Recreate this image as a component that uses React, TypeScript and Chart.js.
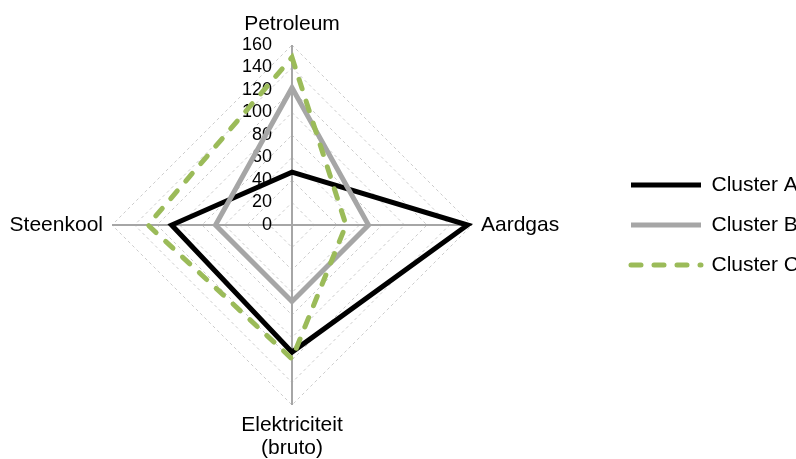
import React, { useEffect, useRef } from 'react';
import { Chart, registerables } from 'chart.js';

Chart.register(...registerables);

const CATEGORIES: (string | string[])[] = ['Petroleum', 'Aardgas', ['Elektriciteit', '(bruto)'], 'Steenkool'];
const SERIES_NAMES = ['Cluster A', 'Cluster B', 'Cluster C'];
const CLUSTER_A = [47, 156, 113, 107];
const CLUSTER_B = [122, 68, 68, 68];
const CLUSTER_C = [149, 48, 119, 128];
const SCALE_MIN = 0;
const SCALE_MAX = 160;
const SCALE_STEP = 20;

const FONT = '"Liberation Sans", Arial, sans-serif';
const SHIFT = 28;

const labelsPlugin = {
  id: 'customRadarLabels',
  beforeDatasetsDraw(chart: any) {
    const s = chart.scales.r;
    const ctx = chart.ctx;
    ctx.save();
    ctx.font = `18px ${FONT}`;
    ctx.fillStyle = '#000';
    ctx.textAlign = 'right';
    ctx.textBaseline = 'middle';
    s.ticks.forEach((t: any) => {
      const d = s.getDistanceFromCenterForValue(t.value);
      ctx.fillText(String(t.label), s.xCenter - 20, s.yCenter - d);
    });
    ctx.restore();
  },
  afterDraw(chart: any) {
    const s = chart.scales.r;
    const ctx = chart.ctx;
    const labels = chart.data.labels as (string | string[])[];
    const lineH = 23;
    ctx.save();
    ctx.font = `21px ${FONT}`;
    ctx.fillStyle = '#000';
    ctx.textBaseline = 'middle';
    labels.forEach((lab, i) => {
      const lines = Array.isArray(lab) ? lab : [lab];
      const pos = s.getPointPosition(i, s.drawingArea + 9);
      const ang = s.getIndexAngle(i);
      const sx = Math.sin(ang);
      const cy = -Math.cos(ang);
      let align: CanvasTextAlign = 'center';
      if (sx > 0.3) align = 'left';
      else if (sx < -0.3) align = 'right';
      ctx.textAlign = align;
      const total = lines.length * lineH;
      let y0: number;
      if (cy < -0.3) y0 = pos.y - total;
      else if (cy > 0.3) y0 = pos.y;
      else y0 = pos.y - total / 2;
      lines.forEach((ln, k) => {
        ctx.fillText(ln, pos.x, y0 + k * lineH + lineH / 2);
      });
    });
    ctx.restore();
  },
};

export default function App() {
  const ref = useRef<HTMLCanvasElement | null>(null);

  useEffect(() => {
    document.body.style.margin = '0';
    document.body.style.overflow = 'hidden';
    if (!ref.current) return;
    const chart = new Chart(ref.current, {
      type: 'radar',
      data: {
        labels: CATEGORIES as any,
        datasets: [
          {
            label: SERIES_NAMES[0],
            data: CLUSTER_A,
            borderColor: '#000000',
            backgroundColor: '#000000',
            borderWidth: 5,
            fill: false,
            pointRadius: 0,
            pointHoverRadius: 0,
            borderJoinStyle: 'miter',
            borderCapStyle: 'butt',
            order: 3,
            clip: false,
          } as any,
          {
            label: SERIES_NAMES[1],
            data: CLUSTER_B,
            borderColor: '#a6a6a6',
            backgroundColor: '#a6a6a6',
            borderWidth: 5,
            fill: false,
            pointRadius: 0,
            pointHoverRadius: 0,
            borderJoinStyle: 'miter',
            borderCapStyle: 'butt',
            order: 2,
            clip: false,
          } as any,
          {
            label: SERIES_NAMES[2],
            data: CLUSTER_C,
            borderColor: '#9bbb59',
            backgroundColor: '#9bbb59',
            borderWidth: 5,
            borderDash: [10, 13],
            borderCapStyle: 'round',
            borderJoinStyle: 'miter',
            fill: false,
            pointRadius: 0,
            pointHoverRadius: 0,
            order: 1,
            clip: false,
          } as any,
        ],
      },
      options: {
        animation: false,
        responsive: false,
        devicePixelRatio: 1,
        layout: { padding: { left: 0, right: 0, top: 45, bottom: 54 } },
        elements: { line: { tension: 0 } },
        scales: {
          r: {
            min: SCALE_MIN,
            max: SCALE_MAX,
            ticks: { stepSize: SCALE_STEP, display: false },
            pointLabels: { display: false },
            grid: { color: '#cccccc', lineWidth: 1, circular: false, borderDash: [3, 3] } as any,
            border: { dash: [3, 3] } as any,
            angleLines: { color: '#a6a6a6', lineWidth: 2 },
          },
        },
        plugins: {
          tooltip: { enabled: false },
          legend: {
            position: 'right',
            align: 'center',
            maxWidth: 184,
            labels: {
              usePointStyle: true,
              pointStyle: 'line',
              pointStyleWidth: 70,
              padding: 19,
              color: '#000',
              font: { size: 21, family: FONT },
              sort: (a: any, b: any) => a.datasetIndex - b.datasetIndex,
              generateLabels: (chart: any) => {
                const base = (Chart.defaults.plugins.legend.labels as any).generateLabels(chart);
                return base.map((item: any) => {
                  const ds: any = chart.data.datasets[item.datasetIndex];
                  return {
                    ...item,
                    pointStyle: 'line',
                    strokeStyle: ds.borderColor,
                    fillStyle: ds.borderColor,
                    lineWidth: ds.borderWidth,
                    lineDash: ds.borderDash || [],
                    lineCap: ds.borderCapStyle || 'butt',
                    lineDashOffset: 0,
                  };
                });
              },
            },
          } as any,
        },
      },
      plugins: [labelsPlugin],
    });
    return () => chart.destroy();
  }, []);

  return (
    <div style={{ width: 796, height: 459, overflow: 'hidden', position: 'relative' }}>
      <canvas
        ref={ref}
        width={796 + SHIFT}
        height={459}
        style={{ display: 'block', position: 'absolute', left: -SHIFT, top: 0 }}
      />
    </div>
  );
}
